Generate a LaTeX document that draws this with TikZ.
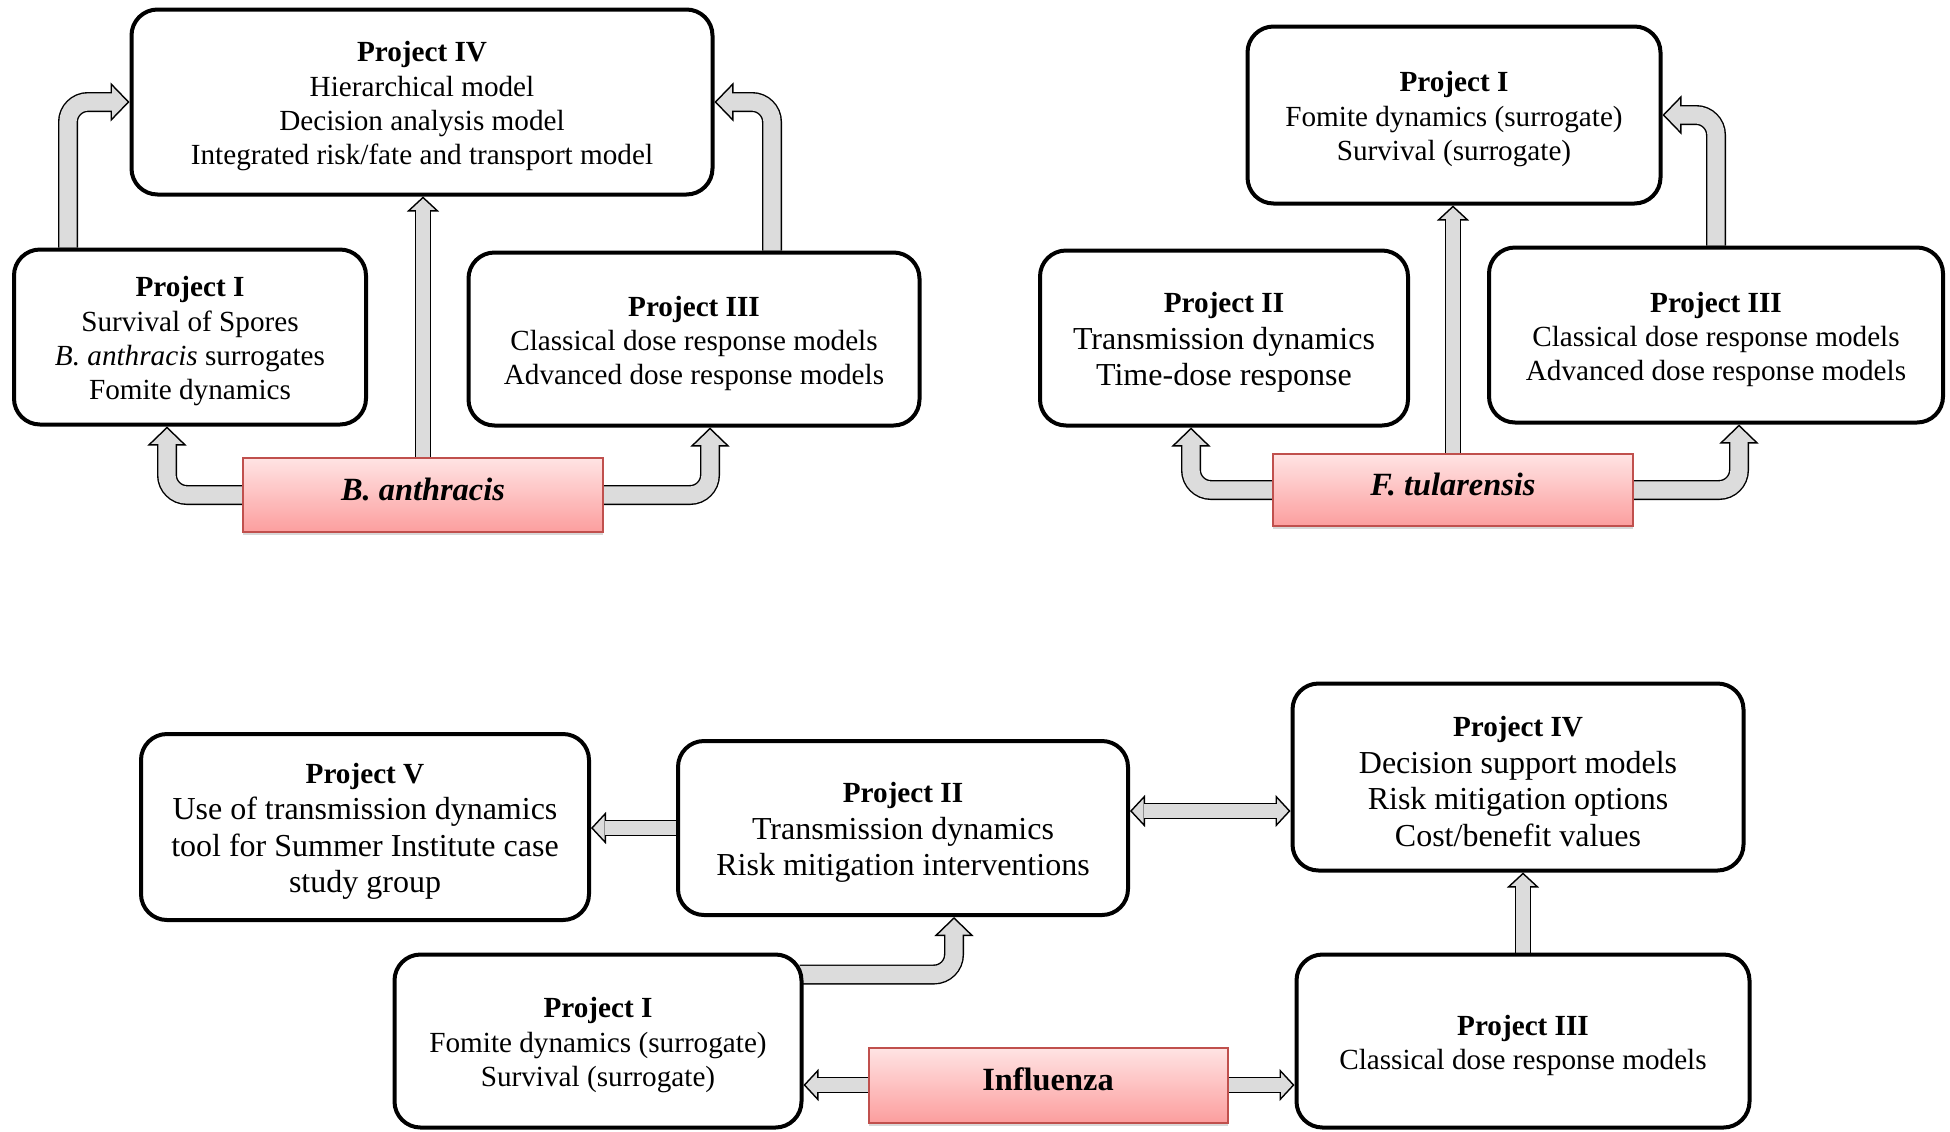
\documentclass[tikz,border=0pt]{standalone}
\usepackage{fontspec}
\setmainfont{Liberation Serif}
\usepackage{tikz}
\usetikzlibrary{arrows.meta,positioning,calc,shadows}
\definecolor{pinktop}{RGB}{255,228,228}
\definecolor{pinkbot}{RGB}{252,158,158}
\definecolor{pinkline}{RGB}{192,80,77}
\definecolor{shaft}{RGB}{220,220,220}
\pgfdeclarelayer{back}
\pgfsetlayers{back,main}
% box title, a little lower than plain centring
\newcommand\ttl[1]{\rule{0pt}{14.5pt}{\fontsize{14.6}{17.2}\selectfont\bfseries #1}}

\tikzset{
  proj/.style={draw, line width=2pt, rounded corners=13pt, fill=white, align=center,
    inner sep=0pt, font=\fontsize{14.6}{17.2}\selectfont},
  projbig/.style={proj, font=\fontsize{16}{18.3}\selectfont},
  bug/.style={draw=pinkline, line width=1pt, top color=pinktop, bottom color=pinkbot,
    inner sep=0pt, text depth=6pt, font=\fontsize{16.2}{19}\selectfont\bfseries,
    drop shadow={shadow xshift=0pt, shadow yshift=-1.5pt, fill=gray!60}},
  % bent block arrows
  fatA/.style={draw=shaft, line width=8.6pt, rounded corners=10pt, shorten >=8.6pt,
    preaction={draw=black, line width=10pt, shorten >=0pt,
      -{Triangle[length=9.5pt,width=19.5pt,line width=0.7pt,fill=shaft,color=black]}}},
  % straight block arrows
  fatB/.style={draw=shaft, line width=6.6pt, shorten >=6.8pt,
    preaction={draw=black, line width=8pt, shorten >=0pt,
      -{Triangle[length=7.5pt,width=16pt,line width=0.7pt,fill=shaft,color=black]}}},
  fatD/.style={draw=shaft, line width=6.6pt, shorten >=6.8pt, shorten <=6.8pt,
    preaction={draw=black, line width=8pt, shorten >=0pt, shorten <=0pt,
      {Triangle[length=7.5pt,width=16pt,line width=0.7pt,fill=shaft,color=black]}-{Triangle[length=7.5pt,width=16pt,line width=0.7pt,fill=shaft,color=black]}}},
}

\begin{document}
\begin{tikzpicture}[x=0.5pt,y=-0.5pt]
\useasboundingbox (0,0) rectangle (1950,1131);

% B. anthracis
\node[proj, minimum width=290.5pt, minimum height=92.5pt] (P4a) at (422,102)
  {\ttl{Project IV}\\Hierarchical model\\Decision analysis model\\Integrated risk/fate and transport model};
\node[proj, minimum width=176pt, minimum height=87.5pt] (P1a) at (190,337)
  {\ttl{Project I}\\Survival of Spores\\\textit{B. anthracis} surrogates\\Fomite dynamics};
\node[proj, minimum width=225.5pt, minimum height=86.5pt] (P3a) at (694,339)
  {\ttl{Project III}\\Classical dose response models\\Advanced dose response models};
\node[bug, minimum width=180pt, minimum height=37pt] (Ba) at (423,495) {\textit{B. anthracis}};

% F. tularensis
\node[proj, minimum width=206.5pt, minimum height=88.5pt] (P1b) at (1454,115)
  {\ttl{Project I}\\Fomite dynamics (surrogate)\\Survival (surrogate)};
\node[projbig, minimum width=184pt, minimum height=87.5pt] (P2b) at (1224,338)
  {\ttl{Project II}\\Transmission dynamics\\Time-dose response};
\node[proj, minimum width=227pt, minimum height=87.5pt] (P3b) at (1716,335)
  {\ttl{Project III}\\Classical dose response models\\Advanced dose response models};
\node[bug, minimum width=180pt, minimum height=36pt] (Ft) at (1453,490) {\textit{F. tularensis}};

% Influenza
\node[projbig, minimum width=224pt, minimum height=93pt] (P5) at (365,827)
  {\ttl{Project V}\\Use of transmission dynamics\\tool for Summer Institute case\\study group};
\node[projbig, minimum width=225pt, minimum height=87pt] (P2c) at (903,828)
  {\ttl{Project II}\\Transmission dynamics\\Risk mitigation interventions};
\node[projbig, minimum width=225.5pt, minimum height=93.5pt] (P4c) at (1518,777)
  {\ttl{Project IV}\\Decision support models\\Risk mitigation options\\Cost/benefit values};
\node[proj, minimum width=203.5pt, minimum height=86.5pt] (P1c) at (598,1041)
  {\ttl{Project I}\\Fomite dynamics (surrogate)\\Survival (surrogate)};
\node[proj, minimum width=226.5pt, minimum height=86.5pt] (P3c) at (1523,1041)
  {\ttl{Project III}\\Classical dose response models};
\node[bug, minimum width=179.5pt, minimum height=37.5pt] (Inf) at (1048,1085) {Influenza};

\begin{pgfonlayer}{back}
% arrows, B. anthracis
\draw[fatA] ([xshift=28pt]P1a.north west) |- (P4a.west);
\draw[fatA] ([xshift=39pt]P3a.north) |- (P4a.east);
\draw[fatB] (Ba.north) -- (Ba.north |- P4a.south);
\draw[fatA] (Ba.west) -| ([xshift=-11.5pt]P1a.south);
\draw[fatA] (Ba.east) -| ([xshift=8pt]P3a.south);
% arrows, F. tularensis
\draw[fatB] (Ft.north) -- (Ft.north |- P1b.south);
\draw[fatA] (Ft.west) -| ([xshift=-16.5pt]P2b.south);
\draw[fatA] (Ft.east) -| ([xshift=11.5pt]P3b.south);
\draw[fatA] (P3b.north) |- (P1b.east);
% arrows, Influenza
\draw[fatB] (P2c.west) -- (P2c.west -| P5.east);
\coordinate (dbl) at ([yshift=8.5pt]P2c.east);
\draw[fatD] (dbl) -- (dbl -| P4c.west);
\draw[fatB] (P3c.north) -- (P3c.north |- P4c.south);
\draw[fatA] ([xshift=-2pt,yshift=-11pt]P1c.north east) -| ([xshift=25.5pt]P2c.south);
\draw[fatB] (Inf.west) -- (Inf.west -| P1c.east);
\draw[fatB] (Inf.east) -- (Inf.east -| P3c.west);
\end{pgfonlayer}
\end{tikzpicture}
\end{document}
